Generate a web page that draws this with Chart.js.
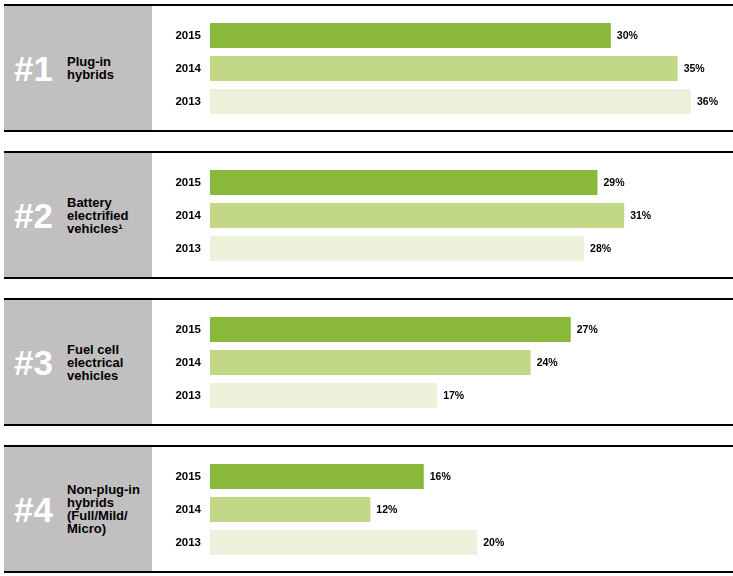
<!DOCTYPE html>
<html>
<head>
<meta charset="utf-8">
<script src="https://cdn.jsdelivr.net/npm/chart.js@4"></script>
<style>
  body { margin: 0; background: #fff; font-family: "Liberation Sans", Arial, sans-serif; }
  #wrap { position: relative; width: 733px; height: 576px; }
  .panel { position: absolute; left: 4px; width: 729px; height: 124px;
           border-top: 2px solid #000; border-bottom: 2px solid #000; }
  .side { position: absolute; left: 0; top: 0; width: 148px; height: 124px; background: #c1bfc0;
          display: flex; align-items: center; }
  .rank { position: absolute; left: 10px; color: #fff; font-weight: bold; font-size: 35px; line-height: 35px; }
  .tech { position: absolute; left: 63px; color: #000; font-weight: bold; font-size: 13px; line-height: 13px; }
  .panel canvas { position: absolute; left: 148px; top: 0; }
</style>
</head>
<body>
<div id="wrap"></div>
<script>
// data
const years = ["2015", "2014", "2013"];
const ranks = ["#1", "#2", "#3", "#4"];
const technologies = [
    ["Plug-in", "hybrids"],
    ["Battery", "electrified", "vehicles\u00b9"],
    ["Fuel cell", "electrical", "vehicles"],
    ["Non-plug-in", "hybrids", "(Full/Mild/", "Micro)"]
];
const share2015 = [30, 29, 27, 16];
const share2014 = [35, 31, 24, 12];
const share2013 = [36, 28, 17, 20];

const panelTops = [4, 151, 298, 445];
const yearColors = ["#8ab83b", "#c2d886", "#ecf1dc"];

// draw "30%" next to each bar
const valueLabels = {
    id: "valueLabels",
    afterDatasetsDraw(chart) {
        const ctx = chart.ctx;
        const meta = chart.getDatasetMeta(0);
        ctx.save();
        ctx.font = "bold 10.5px 'Liberation Sans', Arial, sans-serif";
        ctx.fillStyle = "#000";
        ctx.textBaseline = "middle";
        meta.data.forEach((bar, i) => {
            ctx.fillText(chart.data.datasets[0].data[i] + "%", bar.x + 6, bar.y + 1);
        });
        ctx.restore();
    }
};

const wrap = document.getElementById("wrap");

ranks.forEach((rank, p) => {
    const panel = document.createElement("div");
    panel.className = "panel";
    panel.style.top = panelTops[p] + "px";

    const side = document.createElement("div");
    side.className = "side";
    side.innerHTML = `<div class="rank">${rank}</div><div class="tech">${technologies[p].join("<br>")}</div>`;
    panel.appendChild(side);

    const canvas = document.createElement("canvas");
    canvas.width = 581;
    canvas.height = 124;
    canvas.style.width = "581px";
    canvas.style.height = "124px";
    panel.appendChild(canvas);
    wrap.appendChild(panel);

    new Chart(canvas.getContext("2d"), {
        type: "bar",
        data: {
            labels: years,
            datasets: [{
                data: [share2015[p], share2014[p], share2013[p]],
                backgroundColor: yearColors,
                borderWidth: 0,
                barPercentage: 0.76,
                categoryPercentage: 1
            }]
        },
        options: {
            indexAxis: "y",
            responsive: false,
            animation: false,
            layout: { padding: { left: 0, right: 42, top: 13, bottom: 12 } },
            plugins: { legend: { display: false }, tooltip: { enabled: false } },
            scales: {
                x: { min: 0, max: 36, display: false },
                y: {
                    grid: { display: false, drawTicks: false },
                    border: { display: false },
                    ticks: {
                        padding: 9,
                        color: "#000",
                        font: { family: "'Liberation Sans', Arial, sans-serif", size: 11.5, weight: "bold" }
                    },
                    afterFit(scale) {
                        scale.width = 58;
                        // no extra room for tick labels above/below, layout padding decides
                        scale.paddingTop = 0;
                        scale.paddingBottom = 0;
                    }
                }
            }
        },
        plugins: [valueLabels]
    });
});
</script>
</body>
</html>
